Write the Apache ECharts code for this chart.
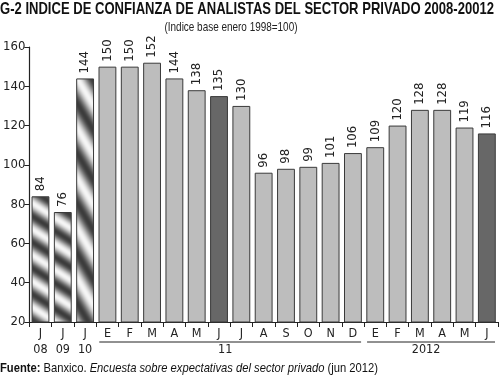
<!DOCTYPE html>
<html><head><meta charset="utf-8">
<script src="https://cdn.jsdelivr.net/npm/echarts@6/dist/echarts.min.js"></script>
<style>html,body{margin:0;padding:0;background:#fff}#c{width:500px;height:378px}</style>
</head><body><div id="c"></div>
<script>
// ---- data ----
const months = ['J','J','J','E','F','M','A','M','J','J','A','S','O','N','D','E','F','M','A','M','J'];
const values = [84,76,144,150,150,152,144,138,135,130,96,98,99,101,106,109,120,128,128,119,116];
const stripedIdx = [0,1];
const stripedWideIdx = [2];
const darkIdx = [8,20];
const yearLabels = ['08','09','10','11','2012'];
const yearFrom = [0,1,2,3,15];
const yearTo = [0,1,2,14,20];
const yearLine = [false,false,false,true,true];
const yMin = 20, yMax = 160, yStep = 20;
const titleText = 'G-2 INDICE DE CONFIANZA DE ANALISTAS DEL SECTOR PRIVADO 2008-20012';
const subtitleText = '(Indice base enero 1998=100)';
const footerParts = ['Fuente:', ' Banxico. ', 'Encuesta sobre expectativas del sector privado', ' (jun 2012)'];

const FONT = '"Liberation Sans Narrow","DejaVu Sans Condensed","Arial Narrow",sans-serif';
const WFONT = '"Liberation Sans",Arial,sans-serif';

function makeStripe(w, h, dark, light) {
  const c = document.createElement('canvas');
  c.width = w; c.height = h;
  const ctx = c.getContext('2d');
  const img = ctx.createImageData(w, h);
  for (let y = 0; y < h; y++) {
    for (let x = 0; x < w; x++) {
      const t = x / w - y / h;
      const v = 0.5 + 0.5 * Math.cos(2 * Math.PI * t);
      const g = Math.round(dark + (light - dark) * v);
      const i = (y * w + x) * 4;
      img.data[i] = g; img.data[i+1] = g; img.data[i+2] = g; img.data[i+3] = 255;
    }
  }
  ctx.putImageData(img, 0, 0);
  return { image: c, repeat: 'repeat' };
}
const stripe = makeStripe(40, 26, 60, 245);
const stripeWide = makeStripe(30, 50, 60, 245);

const data = values.map((v, i) => {
  let color = '#bdbdbd';
  if (stripedIdx.includes(i)) color = stripe;
  else if (stripedWideIdx.includes(i)) color = stripeWide;
  else if (darkIdx.includes(i)) color = '#676767';
  return { value: v, itemStyle: { color: color } };
});

const mctx = document.createElement('canvas').getContext('2d');
function measure(text, font) { mctx.font = font; return mctx.measureText(text).width; }

const chart = echarts.init(document.getElementById('c'), null, { renderer: 'canvas' });
chart.setOption({
  animation: false,
  backgroundColor: '#fff',
  grid: { left: 28, right: 2, top: 47, bottom: 56, containLabel: false },
  xAxis: {
    type: 'category', data: months, boundaryGap: true,
    axisLine: { show: true, lineStyle: { color: '#222', width: 1 } },
    axisTick: { show: true, length: 5, lineStyle: { color: '#222' } },
    axisLabel: { fontFamily: FONT, fontSize: 12.5, color: '#222', margin: 5 }
  },
  yAxis: {
    type: 'value', min: yMin, max: yMax, interval: yStep,
    axisLine: { show: true, lineStyle: { color: '#222', width: 1.2 } },
    axisTick: { show: true, length: 5, lineStyle: { color: '#222' } },
    splitLine: { show: false },
    axisLabel: { fontFamily: FONT, fontSize: 13, color: '#222', margin: 4 }
  },
  series: [{
    type: 'bar', data: data, barCategoryGap: '20%',
    itemStyle: { borderColor: '#3a3a3a', borderWidth: 1 },
    label: { show: true, position: 'top', rotate: 90, align: 'left', verticalAlign: 'middle', distance: 5,
      fontFamily: FONT, fontSize: 13, color: '#222' }
  }]
});

const elements = [];
// title, scaled to condensed width
const tFont = 'bold 17px ' + WFONT;
const tW = measure(titleText, tFont);
elements.push({ type: 'text', x: 0, y: 9, scaleX: 494 / tW, scaleY: 1,
  style: { text: titleText, font: tFont, fill: '#111', align: 'left', verticalAlign: 'middle' } });
const sFont = '13px ' + WFONT;
const sW = measure(subtitleText, sFont);
elements.push({ type: 'text', x: 231, y: 27, scaleX: 133 / sW, scaleY: 1,
  style: { text: subtitleText, font: sFont, fill: '#222', align: 'center', verticalAlign: 'middle' } });
const fW = measure(footerParts[0], 'bold 13px ' + WFONT) + measure(footerParts[1], '13px ' + WFONT)
  + measure(footerParts[2], 'italic 13px ' + WFONT) + measure(footerParts[3], '13px ' + WFONT);
elements.push({ type: 'text', x: 0, y: 368, scaleX: 378 / fW, scaleY: 1,
  style: { text: '{b|' + footerParts[0] + '}{n|' + footerParts[1] + '}{i|' + footerParts[2] + '}{n|' + footerParts[3] + '}',
    verticalAlign: 'middle', align: 'left',
    rich: { b: { fontFamily: WFONT, fontWeight: 'bold', fontSize: 13, fill: '#111' },
            n: { fontFamily: WFONT, fontSize: 13, fill: '#111' },
            i: { fontFamily: WFONT, fontStyle: 'italic', fontSize: 13, fill: '#111' } } } });

// year grouping row computed from axis scale
const c0 = chart.convertToPixel({ xAxisIndex: 0 }, 0);
const c1 = chart.convertToPixel({ xAxisIndex: 0 }, 1);
const band = c1 - c0;
const baseY = chart.convertToPixel({ yAxisIndex: 0 }, yMin);
yearLabels.forEach((lab, k) => {
  const left = chart.convertToPixel({ xAxisIndex: 0 }, yearFrom[k]) - band / 2;
  const right = chart.convertToPixel({ xAxisIndex: 0 }, yearTo[k]) + band / 2;
  if (yearLine[k]) {
    elements.push({ type: 'line', shape: { x1: left + 3, y1: baseY + 20, x2: right - 3, y2: baseY + 20 },
      style: { stroke: '#222', lineWidth: 1 } });
  }
  elements.push({ type: 'text', x: (left + right) / 2 - (yearLine[k] ? 5 : 0), y: baseY + 28,
    style: { text: lab, fontFamily: FONT, fontSize: 12.5, fill: '#222', align: 'center', verticalAlign: 'middle' } });
});
chart.setOption({ graphic: { elements: elements } });
</script>
</body></html>
